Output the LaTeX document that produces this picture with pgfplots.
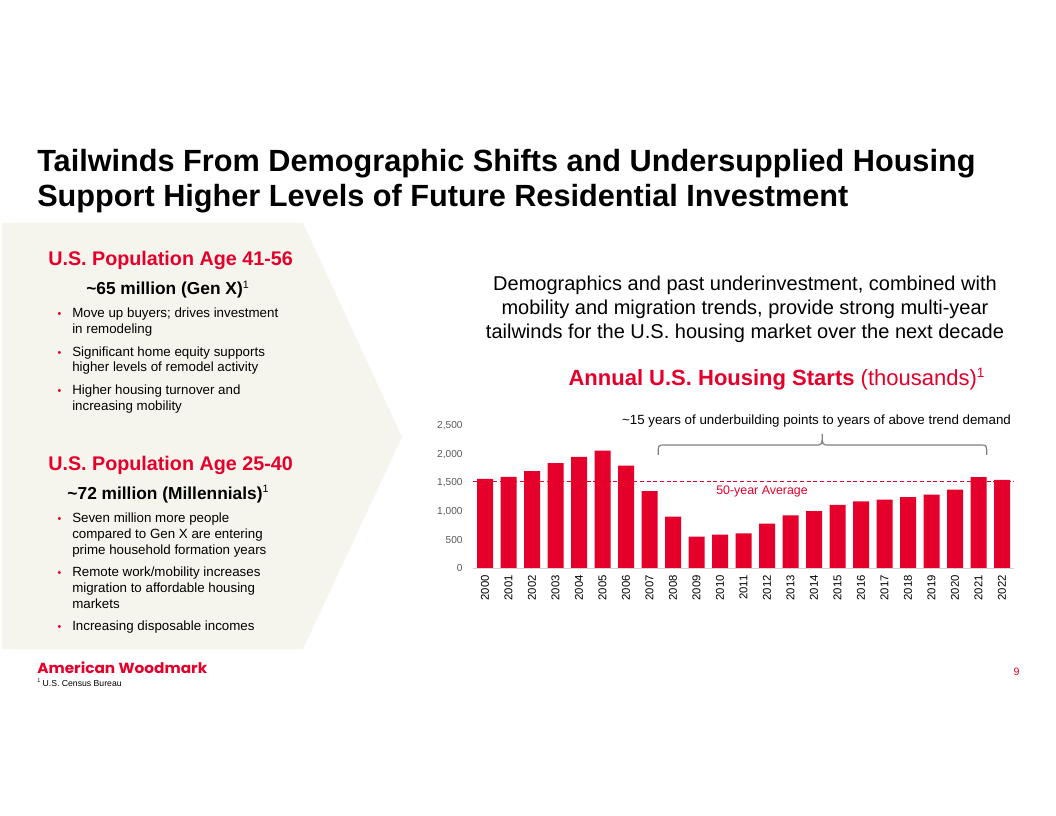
\documentclass[border=0pt]{standalone}
\usepackage{fontspec}
\setmainfont{Liberation Sans}
\newfontfamily\logofont{Poppins}
\usepackage{graphicx}
\usepackage{pgfplots}
\pgfplotsset{compat=1.18}
\definecolor{awred}{RGB}{228,0,43}
\definecolor{panel}{RGB}{246,245,237}
\definecolor{tickgray}{RGB}{89,89,89}
\definecolor{brgray}{RGB}{128,128,128}
\newcommand{\fs}[1]{\fontsize{#1pt}{#1pt}\selectfont}
\newcommand{\supr}[1]{\raisebox{0.4em}{\fontsize{0.62em}{0.62em}\selectfont\mdseries #1}}
\begin{document}
\begin{tikzpicture}
\begin{scope}[x=0.75pt,y=-0.75pt]
\fill[white] (0,0) rectangle (1056,816);
\fill[panel] (2,223) -- (303,223) -- (402,437) -- (303,649) -- (2,649) -- cycle;
% title
\node[anchor=base west, inner sep=0] at (37,171.5) {\fs{23}\bfseries Tailwinds From Demographic Shifts and Undersupplied Housing};
\node[anchor=base west, inner sep=0] at (37,206.5) {\fs{23}\bfseries Support Higher Levels of Future Residential Investment};
% left panel
\node[anchor=base west, inner sep=0, text=awred] at (48,266) {\fs{14.8}\bfseries U.S. Population Age 41-56};
\node[anchor=base, inner sep=0] at (167.5,295) {\fs{13}\bfseries\textasciitilde 65 million (Gen X)\supr{1}};
\foreach \y in {318,356.5,394.5,522.7,576.7,630.7}{
  \node[anchor=base, inner sep=0, text=awred] at (59.5,\y) {\fs{8}\textbullet};
}
\node[anchor=base west, inner sep=0] at (72,318) {\fs{10}Move up buyers; drives investment};
\node[anchor=base west, inner sep=0] at (72,333.5) {\fs{10}in remodeling};
\node[anchor=base west, inner sep=0] at (72,356.5) {\fs{10}Significant home equity supports};
\node[anchor=base west, inner sep=0] at (72,372) {\fs{10}higher levels of remodel activity};
\node[anchor=base west, inner sep=0] at (72,394.5) {\fs{10}Higher housing turnover and};
\node[anchor=base west, inner sep=0] at (72,410) {\fs{10}increasing mobility};
\node[anchor=base west, inner sep=0, text=awred] at (48,470) {\fs{14.8}\bfseries U.S. Population Age 25-40};
\node[anchor=base, inner sep=0] at (168,499.5) {\fs{13}\bfseries\textasciitilde 72 million (Millennials)\supr{1}};
\node[anchor=base west, inner sep=0] at (72,522.7) {\fs{10}Seven million more people};
\node[anchor=base west, inner sep=0] at (72,538.3) {\fs{10}compared to Gen X are entering};
\node[anchor=base west, inner sep=0] at (72,554) {\fs{10}prime household formation years};
\node[anchor=base west, inner sep=0] at (72,576.7) {\fs{10}Remote work/mobility increases};
\node[anchor=base west, inner sep=0] at (72,592.7) {\fs{10}migration to affordable housing};
\node[anchor=base west, inner sep=0] at (72,608.3) {\fs{10}markets};
\node[anchor=base west, inner sep=0] at (72,630.7) {\fs{10}Increasing disposable incomes};
% right text
\node[anchor=base, inner sep=0] at (745,291) {\fs{15}Demographics and past underinvestment, combined with};
\node[anchor=base, inner sep=0] at (745,315) {\fs{15}mobility and migration trends, provide strong multi-year};
\node[anchor=base, inner sep=0] at (745,339) {\fs{15}tailwinds for the U.S. housing market over the next decade};
\node[anchor=base, inner sep=0, text=awred] at (776.5,386) {\fs{16.5}\textbf{Annual U.S. Housing Starts} (thousands)\supr{1}};
\node[anchor=base, inner sep=0] at (816.5,424) {\fs{10}\textasciitilde 15 years of underbuilding points to years of above trend demand};
\node[anchor=base, inner sep=0, text=awred] at (762,494) {\fs{9.3}50-year Average};
% footer
\node[anchor=base west, inner sep=0, text=awred] at (37,673.5) {\resizebox{127.5pt}{8.8pt}{\logofont\bfseries American Woodmark}};
\node[anchor=base west, inner sep=0] at (37,686) {\fs{6.5}\supr{1} U.S. Census Bureau};
\node[anchor=base, inner sep=0, text=awred] at (1016.5,675) {\fs{8}9};
\end{scope}
\begin{axis}[
  at={(354.94pt,-426pt)}, anchor=south west,
  width=405.375pt, height=106.5pt, scale only axis,
  xmin=-0.5, xmax=22.5, ymin=0, ymax=2500,
  enlargelimits=false, clip=false,
  axis line style={draw=none},
  major tick length=0pt,
  xtick={0,1,...,22},
  xticklabels={2000,2001,2002,2003,2004,2005,2006,2007,2008,2009,2010,2011,2012,2013,2014,2015,2016,2017,2018,2019,2020,2021,2022},
  ytick={0,500,1000,1500,2000,2500},
  /pgf/number format/1000 sep={,},
  /pgf/number format/assume math mode=true,
  xticklabel style={rotate=90, anchor=east, inner sep=0pt, font=\fs{8.5}, text=black},
  yticklabel style={anchor=east, inner sep=0pt, font=\fs{7.6}, text=tickgray},
  xticklabel shift=5.25pt,
  yticklabel shift=7.8pt,
]
\addplot[color=awred, line width=0.85pt, dash pattern=on 3pt off 2pt, sharp plot, mark=none] coordinates {(-0.5,1530) (22.5,1530)};
\addplot[ybar, bar width=0.68, fill=awred, draw=none] coordinates {
(0,1569) (1,1603) (2,1705) (3,1848) (4,1956) (5,2068) (6,1801) (7,1355)
(8,906) (9,554) (10,587) (11,609) (12,781) (13,925) (14,1003) (15,1112)
(16,1174) (17,1203) (18,1250) (19,1290) (20,1380) (21,1601) (22,1553)};
\draw[gray!35, line width=0.75pt] (axis cs:-0.5,0) -- (axis cs:22.5,0);
\draw[brgray, line width=0.9pt] (axis cs:7.37,1990) .. controls (axis cs:7.37,2165) .. (axis cs:7.6,2165) -- (axis cs:14.05,2165) .. controls (axis cs:14.35,2165) .. (axis cs:14.35,2360) .. controls (axis cs:14.35,2165) .. (axis cs:14.65,2165) -- (axis cs:21.1,2165) .. controls (axis cs:21.35,2165) .. (axis cs:21.35,1990);
\end{axis}
\end{tikzpicture}
\end{document}
